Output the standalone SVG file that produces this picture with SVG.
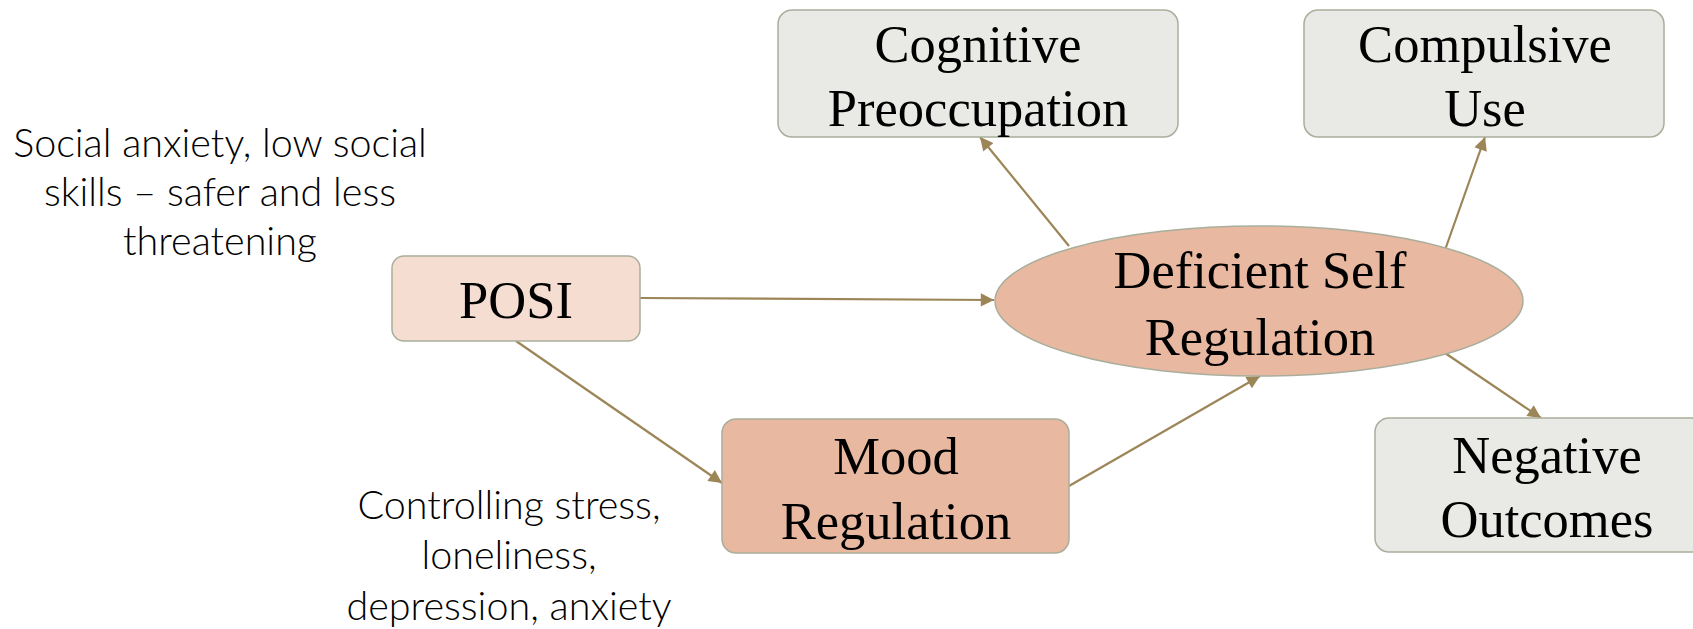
<svg xmlns="http://www.w3.org/2000/svg" width="1693" height="629" viewBox="0 0 1693 629">
<style>
.n{font-family:"Liberation Serif","Times New Roman",serif;font-size:52.5px;fill:#000;text-anchor:middle}
.a{font-family:"Lato","Liberation Sans",sans-serif;font-weight:300;font-size:39.5px;fill:#000;text-anchor:middle}
.g{fill:#E9EAE5;stroke:#A9AE9C;stroke-width:1.5}
.p{fill:#E9B8A1;stroke:#A9AE9C;stroke-width:1.5}
.c{stroke:#9C8557;stroke-width:2.2;fill:none;marker-end:url(#ah)}
</style>
<defs>
<marker id="ah" viewBox="0 0 10 10" refX="10" refY="5" markerWidth="7" markerHeight="6" orient="auto" markerUnits="strokeWidth">
<path d="M0,0 L10,5 L0,10 Z" fill="#9C8557"/>
</marker>
</defs>
<rect width="1693" height="629" fill="#fff"/>
<g id="connectors">
<line class="c" x1="640" y1="298" x2="994" y2="300"/>
<line class="c" x1="516" y1="341" x2="722" y2="483"/>
<line class="c" x1="1069" y1="486" x2="1260" y2="376"/>
<line class="c" x1="1069" y1="246" x2="980" y2="137"/>
<line class="c" x1="1445" y1="250" x2="1485" y2="137"/>
<line class="c" x1="1445" y1="353" x2="1541" y2="418"/>
</g>
<g id="posi">
<rect x="392" y="256" width="248" height="85" rx="12" fill="#F5DDD1" stroke="#A9AE9C" stroke-width="1.5"/>
<text class="n" x="516" y="318">POSI</text>
</g>
<g id="mood">
<rect class="p" x="722" y="419" width="347" height="134" rx="14"/>
<text class="n" x="896" y="474">Mood</text>
<text class="n" x="896" y="539">Regulation</text>
</g>
<g id="dsr">
<ellipse class="p" cx="1259" cy="301" rx="264" ry="75"/>
<text class="n" x="1260" y="288">Deficient Self</text>
<text class="n" x="1260" y="355">Regulation</text>
</g>
<g id="cognitive">
<rect class="g" x="778" y="10" width="400" height="127" rx="14"/>
<text class="n" x="978" y="62">Cognitive</text>
<text class="n" x="978" y="126">Preoccupation</text>
</g>
<g id="compulsive">
<rect class="g" x="1304" y="10" width="360" height="127" rx="14"/>
<text class="n" x="1485" y="62">Compulsive</text>
<text class="n" x="1485" y="126">Use</text>
</g>
<g id="negative">
<rect class="g" x="1375" y="418" width="340" height="134" rx="14"/>
<text class="n" x="1547" y="473">Negative</text>
<text class="n" x="1547" y="537">Outcomes</text>
</g>
<g id="note-posi">
<text class="a" x="220" y="157">Social anxiety, low social</text>
<text class="a" x="220" y="206">skills – safer and less</text>
<text class="a" x="220" y="255">threatening</text>
</g>
<g id="note-mood">
<text class="a" x="509" y="519">Controlling stress,</text>
<text class="a" x="509" y="569">loneliness,</text>
<text class="a" x="509" y="620">depression, anxiety</text>
</g>
</svg>
